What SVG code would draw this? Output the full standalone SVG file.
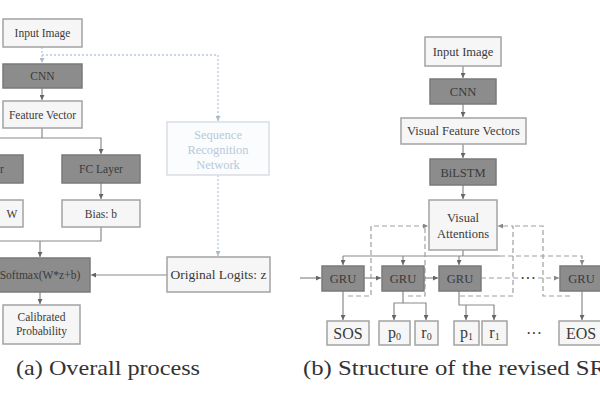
<svg xmlns="http://www.w3.org/2000/svg" width="600" height="400" viewBox="0 0 600 400">
<defs>
<style>
.lt{fill:#f6f6f6;stroke:#a3a3a3;stroke-width:1.5}
.dk{fill:#8c8c8c;stroke:#7a7a7a;stroke-width:1.5}
.sq{fill:#fbfcfd;stroke:#d9dee3;stroke-width:1.5}
text{font-family:"Liberation Serif","DejaVu Serif",serif;fill:#3a3a3a;text-anchor:middle}
.s11{font-size:11.5px}
.s12{font-size:12.5px}
.s13{font-size:13.5px}
.big{font-size:16px}
.sqt{font-size:12.5px;fill:#b7cadb}
.cap{font-size:22px;fill:#333;text-anchor:start}
.ln{fill:none;stroke:#8a8a8a;stroke-width:1.2}
.dt{fill:none;stroke:#b9c9d9;stroke-width:1.3;stroke-dasharray:2 2}
.ds{fill:none;stroke:#a0a0a0;stroke-width:1.2;stroke-dasharray:5 3}
</style>
<marker id="ah" viewBox="0 0 6 6" refX="6" refY="3" markerWidth="5" markerHeight="5" markerUnits="userSpaceOnUse" orient="auto"><path d="M0,0 L6,3 L0,6 z" fill="#666"/></marker>
<marker id="ahb" viewBox="0 0 6 6" refX="6" refY="3" markerWidth="5" markerHeight="5" markerUnits="userSpaceOnUse" orient="auto"><path d="M0,0 L6,3 L0,6 z" fill="#a9bccd"/></marker>
<marker id="ahg" viewBox="0 0 6 6" refX="6" refY="3" markerWidth="5" markerHeight="5" markerUnits="userSpaceOnUse" orient="auto"><path d="M0,0 L6,3 L0,6 z" fill="#888"/></marker>
</defs>
<rect width="600" height="400" fill="#ffffff"/>

<g id="connectors">
<!-- left panel -->
<path class="dt" d="M42,47 V63" marker-end="url(#ahb)"/>
<path class="dt" d="M42,55 H218 V121" marker-end="url(#ahb)"/>
<path class="dt" d="M218,175 V256" marker-end="url(#ahb)"/>
<path class="ln" d="M42,88 V100" marker-end="url(#ah)"/>
<path class="ln" d="M42,128 V138"/>
<path class="ln" d="M-18,138 H101 V154" marker-end="url(#ah)"/>
<path class="ln" d="M-18,138 V154" marker-end="url(#ah)"/>
<path class="ln" d="M101,183 V199" marker-end="url(#ah)"/>
<path class="ln" d="M-18,183 V199" marker-end="url(#ah)"/>
<path class="ln" d="M101,227 V241 H-18 V227"/>
<path class="ln" d="M40,241 V257" marker-end="url(#ah)"/>
<path class="ln" d="M167,275 H91" marker-end="url(#ah)"/>
<path class="ln" d="M40,292 V304" marker-end="url(#ah)"/>
<!-- right panel -->
<path class="ln" d="M463,66 V78" marker-end="url(#ah)"/>
<path class="ln" d="M463,104 V117" marker-end="url(#ah)"/>
<path class="ln" d="M463,144 V158" marker-end="url(#ah)"/>
<path class="ln" d="M463,185 V199" marker-end="url(#ah)"/>
<path class="ln" d="M463,250 V256"/>
<path class="ln" d="M343,256 H500"/>
<path class="ds" d="M500,256 H582 V265" marker-end="url(#ahg)"/>
<path class="ln" d="M343,256 V265" marker-end="url(#ah)"/>
<path class="ln" d="M403,256 V265" marker-end="url(#ah)"/>
<path class="ln" d="M459,256 V265" marker-end="url(#ah)"/>
<path class="ln" d="M300,278 H321" marker-end="url(#ah)"/>
<path class="ln" d="M364,278 H381" marker-end="url(#ah)"/>
<path class="ln" d="M424,278 H438" marker-end="url(#ah)"/>
<path class="ds" d="M481,278 H518"/>
<path class="ds" d="M538,278 H559" marker-end="url(#ahg)"/>
<path class="ds" d="M348,296 H371 V226 H428" marker-end="url(#ahg)"/>
<path class="ds" d="M408,296 H425 V226"/>
<path class="ds" d="M460,296 H513 V226 H498" marker-end="url(#ahg)"/>
<path class="ds" d="M570,296 H543 V226 H513"/>
<path class="ln" d="M343,291 V320" marker-end="url(#ah)"/>
<path class="ln" d="M403,291 V303 H394 V320" marker-end="url(#ah)"/>
<path class="ln" d="M403,303 H426 V320" marker-end="url(#ah)"/>
<path class="ln" d="M459,291 V305 H494 V320" marker-end="url(#ah)"/>
<path class="ln" d="M466,305 V320" marker-end="url(#ah)"/>
<path class="ln" d="M582,291 V320" marker-end="url(#ah)"/>
</g>

<!-- left panel nodes -->
<g id="a-input"><rect class="lt" x="3" y="19" width="79" height="28"/><text class="s11" x="42.5" y="37">Input Image</text></g>
<g id="a-cnn"><rect class="dk" x="3" y="64" width="79" height="24"/><text class="s11" x="42.5" y="80">CNN</text></g>
<g id="a-feature"><rect class="lt" x="3" y="101" width="79" height="27"/><text class="s11" x="42.5" y="118.5">Feature Vector</text></g>
<g id="a-fc-left"><rect class="dk" x="-57" y="155" width="80" height="28"/><text class="s11" x="-18" y="173">FC Layer</text></g>
<g id="a-fc"><rect class="dk" x="62" y="155" width="78" height="28"/><text class="s11" x="101" y="173">FC Layer</text></g>
<g id="a-weight"><rect class="lt" x="-57" y="200" width="80" height="27"/><text class="s11" x="12" y="218">W</text></g>
<g id="a-bias"><rect class="lt" x="62" y="200" width="78" height="27"/><text class="s11" x="101" y="218">Bias: b</text></g>
<g id="a-softmax"><rect class="dk" x="-10" y="258" width="100" height="34"/><text class="s11" x="40" y="279">Softmax(W*z+b)</text></g>
<g id="a-calib"><rect class="lt" x="3" y="305" width="77" height="39"/><text class="s11" x="41.5" y="321">Calibrated</text><text class="s11" x="41.5" y="335">Probability</text></g>
<g id="a-seq"><rect class="sq" x="167" y="122" width="102" height="53"/><text class="sqt" x="218" y="139">Sequence</text><text class="sqt" x="218" y="154">Recognition</text><text class="sqt" x="218" y="169">Network</text></g>
<g id="a-logits"><rect class="lt" x="167" y="257" width="103" height="35"/><text class="s13" x="218.5" y="279">Original Logits: z</text></g>

<!-- right panel nodes -->
<g id="b-input"><rect class="lt" x="425" y="37" width="76" height="29"/><text class="s12" x="463" y="55.5">Input Image</text></g>
<g id="b-cnn"><rect class="dk" x="430" y="79" width="66" height="25"/><text class="s12" x="463" y="95.5">CNN</text></g>
<g id="b-vfv"><rect class="lt" x="401" y="118" width="125" height="26"/><text class="s12" x="463.5" y="135">Visual Feature Vectors</text></g>
<g id="b-bilstm"><rect class="dk" x="430" y="159" width="66" height="26"/><text class="s12" x="463" y="176.5">BiLSTM</text></g>
<g id="b-attn"><rect class="lt" x="429" y="200" width="68" height="50"/><text class="s12" x="463" y="222">Visual</text><text class="s12" x="463" y="238">Attentions</text></g>
<g id="b-gru1"><rect class="dk" x="322" y="266" width="42" height="25"/><text class="s12" x="343" y="282.5">GRU</text></g>
<g id="b-gru2"><rect class="dk" x="382" y="266" width="42" height="25"/><text class="s12" x="403" y="282.5">GRU</text></g>
<g id="b-gru3"><rect class="dk" x="439" y="266" width="42" height="25"/><text class="s12" x="460" y="282.5">GRU</text></g>
<g id="b-gru-dots"><text class="big" x="528" y="284">···</text></g>
<g id="b-gru4"><rect class="dk" x="560" y="266" width="43" height="25"/><text class="s12" x="581.5" y="282.5">GRU</text></g>
<g id="b-sos"><rect class="lt" x="327" y="321" width="42" height="24"/><text class="big" x="348" y="339">SOS</text></g>
<g id="b-p0"><rect class="lt" x="379" y="321" width="31" height="24"/><text class="big" x="394.5" y="338">p<tspan font-size="10" dy="2">0</tspan></text></g>
<g id="b-r0"><rect class="lt" x="415" y="321" width="23" height="24"/><text class="big" x="426.5" y="338">r<tspan font-size="10" dy="2">0</tspan></text></g>
<g id="b-p1"><rect class="lt" x="454" y="321" width="25" height="24"/><text class="big" x="466.5" y="338">p<tspan font-size="10" dy="2">1</tspan></text></g>
<g id="b-r1"><rect class="lt" x="482" y="321" width="25" height="24"/><text class="big" x="494.5" y="338">r<tspan font-size="10" dy="2">1</tspan></text></g>
<g id="b-out-dots"><text class="big" x="534" y="339">···</text></g>
<g id="b-eos"><rect class="lt" x="559" y="321" width="46" height="24"/><text class="big" x="581" y="339">EOS</text></g>

<g id="captions">
<text class="cap" x="16" y="375" textLength="184" lengthAdjust="spacingAndGlyphs">(a) Overall process</text>
<text class="cap" x="303" y="375" textLength="321" lengthAdjust="spacingAndGlyphs">(b) Structure of the revised SRN</text>
</g>
</svg>
